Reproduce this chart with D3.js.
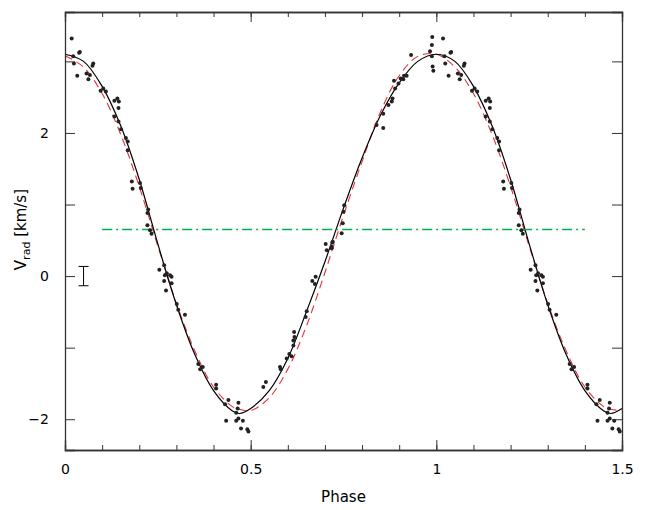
<!DOCTYPE html>
<html><head><meta charset="utf-8">
<script src="https://cdn.jsdelivr.net/npm/d3@7"></script>
<style>body{margin:0;background:#fff}text{font-family:"DejaVu Sans",sans-serif}</style>
</head><body><div id="chart"></div>
<script>
// observed points, phase 0..1 (phase < 0.5 repeated at +1)
const obsPhase = [.018,.022,.024,.033,.038,.040,.058,.063,.067,.074,.076,.096,.103,.110,.133,.141,.145,.144,.133,.144,.151,.164,.169,.169,.180,.182,.202,.204,.224,.222,.222,.229,.233,
  .254,.267,.269,.274,.283,.287,.267,.272,.287,.301,.305,.323,.359,.364,.371,.407,.407,.431,.440,.434,.461,.467,.465,.461,.467,.479,.474,.491,.494,
  .534,.541,.579,.581,.597,.604,.610,.615,.617,.618,.615,.651,.648,.666,.673,.675,.702,.705,.718,.720,.745,.721,.718,.748,.752,.750,
  .839,.857,.857,.871,.880,.882,.889,.886,.898,.904,.911,.913,.920,.932,.983,.988,.989,.988,.990,.992];
const obsV = [3.32,3.07,2.97,2.80,3.12,3.13,2.83,2.75,2.81,2.94,2.97,2.59,2.62,2.58,2.45,2.48,2.44,2.35,2.23,2.16,2.05,1.93,1.88,1.76,1.32,1.22,1.30,1.23,0.93,0.88,0.71,0.64,0.59,
  0.09,0.15,0.01,0.04,0.01,-0.01,-0.07,-0.20,-0.10,-0.39,-0.47,-0.54,-1.23,-1.30,-1.27,-1.52,-1.57,-1.79,-1.73,-2.02,-1.91,-1.77,-1.85,-2.02,-1.99,-2.02,-2.13,-2.14,-2.17,
  -1.55,-1.48,-1.27,-1.30,-1.15,-1.09,-1.12,-0.97,-0.78,-0.85,-0.90,-0.49,-0.57,-0.07,-0.11,-0.01,0.45,0.36,0.39,0.47,0.60,0.48,0.41,0.74,0.99,0.90,
  2.11,2.07,2.27,2.39,2.44,2.48,2.62,2.73,2.69,2.76,2.75,2.80,2.80,3.09,3.14,3.23,3.34,3.07,2.93,2.87];

// fitted curves (phase 0..1, repeated)
const fitPhase = [0,.05,.1,.15,.2,.25,.3,.35,.4,.45,.47,.5,.55,.6,.65,.7,.75,.8,.85,.9,.95,1];
const fitBlack = [3.10,3.0,2.65,2.1,1.35,0.45,-0.4,-1.1,-1.6,-1.88,-1.92,-1.85,-1.6,-1.15,-0.5,0.2,0.95,1.65,2.25,2.7,3.0,3.1];
const fitRed   = [3.08,2.92,2.55,1.98,1.25,0.42,-0.38,-1.05,-1.55,-1.82,-1.86,-1.88,-1.7,-1.3,-0.7,0.05,0.85,1.6,2.3,2.8,3.07,3.1];

const gammaV = 0.65, gammaRange = [0.1, 1.4];
const errPhase = 0.05, errHalf = 0.135;

const W = 646, H = 510;
const margin = {top: 12, right: 24, bottom: 60, left: 65};
const iw = W - margin.left - margin.right, ih = H - margin.top - margin.bottom;

const svg = d3.select("#chart").append("svg").attr("width", W).attr("height", H);
const g = svg.append("g").attr("transform", `translate(${margin.left},${margin.top})`);

const x = d3.scaleLinear().domain([0, 1.5]).range([0, iw]);
const y = d3.scaleLinear().domain([-2.43, 3.69]).range([ih, 0]);

const pts = obsPhase.map((p, i) => ({p, v: obsV[i]}));
pts.filter(d => d.p < 0.5).forEach(d => pts.push({p: d.p + 1, v: d.v}));

function extend(vals) {
  const out = fitPhase.map((p, i) => [p, vals[i]]);
  fitPhase.forEach((p, i) => { if (p > 0 && p <= 0.5) out.push([p + 1, vals[i]]); });
  return out;
}

const line = d3.line().x(d => x(d[0])).y(d => y(d[1])).curve(d3.curveCatmullRom);

g.append("path").datum(extend(fitRed)).attr("d", line)
  .attr("fill", "none").attr("stroke", "#e0303a").attr("stroke-width", 1.1).attr("stroke-dasharray", "8,5");
g.append("path").datum(extend(fitBlack)).attr("d", line)
  .attr("fill", "none").attr("stroke", "#000").attr("stroke-width", 1.2);

g.append("line").attr("x1", x(gammaRange[0])).attr("x2", x(gammaRange[1]))
  .attr("y1", y(gammaV)).attr("y2", y(gammaV))
  .attr("stroke", "#00b050").attr("stroke-width", 1.4).attr("stroke-dasharray", "10,4,2,4");

g.selectAll(".pt").data(pts).enter().append("circle")
  .attr("cx", d => x(d.p)).attr("cy", d => y(d.v)).attr("r", 2).attr("fill", "#222");

// error bar
const eb = g.append("g").attr("stroke", "#000").attr("stroke-width", 1);
eb.append("line").attr("x1", x(errPhase)).attr("x2", x(errPhase)).attr("y1", y(errHalf)).attr("y2", y(-errHalf));
[errHalf, -errHalf].forEach(v => eb.append("line")
  .attr("x1", x(errPhase) - 5).attr("x2", x(errPhase) + 5).attr("y1", y(v)).attr("y2", y(v)));

// axes
const fmt = d => d < 0 ? "\u2212" + Math.abs(d) : String(d);
const xMinor = d3.range(0, 1.51, 0.1).map(d => +d.toFixed(1));
const yMajor = [-2, -1, 0, 1, 2, 3];
g.append("g").attr("transform", `translate(0,${ih})`)
  .call(d3.axisBottom(x).tickValues(xMinor).tickSize(-5).tickFormat(""));
g.append("g").attr("transform", `translate(0,${ih})`)
  .call(d3.axisBottom(x).tickValues([0, 0.5, 1, 1.5]).tickSize(-10).tickPadding(14).tickFormat(d => String(d)));
g.append("g").call(d3.axisTop(x).tickValues(xMinor).tickSize(-5).tickFormat(""));
g.append("g").call(d3.axisTop(x).tickValues([0, 0.5, 1, 1.5]).tickSize(-10).tickFormat(""));
g.append("g").call(d3.axisLeft(y).tickValues(yMajor).tickSize(-10).tickPadding(16)
  .tickFormat(d => d % 2 === 0 && d < 3 ? fmt(d) : ""));
g.append("g").attr("transform", `translate(${iw},0)`)
  .call(d3.axisRight(y).tickValues(yMajor).tickSize(-10).tickFormat(""));
g.selectAll(".domain").attr("stroke", "#333").attr("stroke-width", 1.3);
g.selectAll(".tick line").attr("stroke", "#333");
g.selectAll(".tick text").attr("font-size", 14).attr("fill", "#000").attr("font-family", "DejaVu Sans");

svg.append("text").attr("x", margin.left + iw / 2).attr("y", 502).attr("text-anchor", "middle")
  .attr("font-size", 15).text("Phase");
const yl = svg.append("text").attr("transform", `translate(26,${margin.top + y(0.65)}) rotate(-90)`)
  .attr("text-anchor", "middle").attr("font-size", 15);
yl.append("tspan").text("V");
yl.append("tspan").attr("font-size", 11).attr("dy", 4).text("rad");
yl.append("tspan").attr("dy", -4).text(" [km/s]");
</script></body></html>
